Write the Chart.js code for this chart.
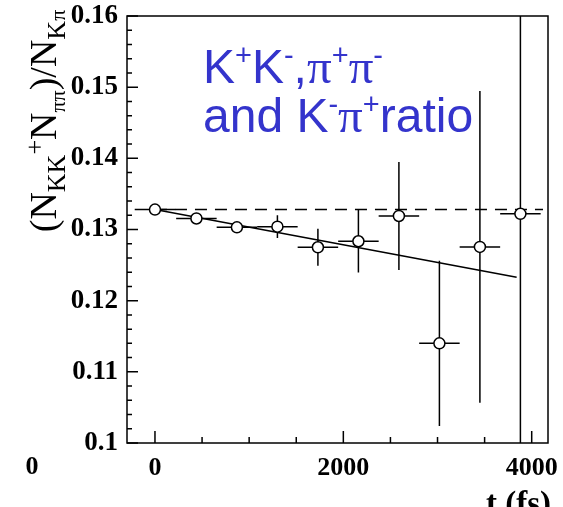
<!DOCTYPE html>
<html>
<head>
<meta charset="utf-8">
<script src="https://cdn.jsdelivr.net/npm/chart.js@4.4.0/dist/chart.umd.min.js"></script>
<style>
  body { margin: 0; background: #fff; }
  canvas { display: block; }
</style>
</head>
<body>
<canvas id="ratioChart" width="563" height="507"></canvas>
<script>
// decay time bins (fs) and the measured ratio with its errors
var times = [0, 440, 870, 1300, 1730, 2160, 2590, 3020, 3450, 3880];
var ratios = [0.1328, 0.13155, 0.1303, 0.1304, 0.1275, 0.12835, 0.1319, 0.1140, 0.12755, 0.1322];
var ratioErrors = [0.0002, 0.0003, 0.0005, 0.0016, 0.0026, 0.0044, 0.0076, 0.0116, 0.0219, 0.05];
var timeHalfWidths = [215, 215, 215, 215, 215, 215, 215, 215, 215, 215];

// straight line fit and the flat reference (dashed)
var fitTimes = [0, 3840];
var fitValues = [0.1328, 0.1233];
var flatTimes = [0, 4120];
var flatValues = [0.1328, 0.1328];

// axis ticks
var xTicks = [0, 2000, 4000];
var xMinorTicks = [500, 1000, 1500, 2500, 3000, 3500];
var yTicks = [0.1, 0.11, 0.12, 0.13, 0.14, 0.15, 0.16];
var yMinorStep = 0.002;

var serif = '"Liberation Serif", "DejaVu Serif", serif';
var sans = '"Liberation Sans", Arial, sans-serif';
var blue = '#3434cc';

function toPoints(xs, ys) {
    return xs.map(function (x, i) { return { x: x, y: ys[i] }; });
}

// draws a row of text pieces (for sub/superscripts), returns the total width
function drawRuns(ctx, x, y, runs, measureOnly) {
    var w = 0;
    runs.forEach(function (r) {
        ctx.font = r.font;
        if (!measureOnly) ctx.fillText(r.text, x + w, y + (r.dy || 0));
        w += ctx.measureText(r.text).width + (r.gap || 0);
    });
    return w;
}

// keep the plot frame where we put it, labels may overhang
function noPadding(s) {
    s.paddingTop = 0; s.paddingBottom = 0;
    s.paddingLeft = 0; s.paddingRight = 0;
}

var rootStyle = {
    id: 'rootStyle',
    beforeDatasetsDraw: function (chart) {
        var ctx = chart.ctx, area = chart.chartArea;
        var xs = chart.scales.x, ys = chart.scales.y;
        ctx.save();
        ctx.beginPath();
        ctx.rect(area.left, area.top, area.right - area.left, area.bottom - area.top);
        ctx.clip();
        ctx.strokeStyle = '#000';
        ctx.lineWidth = 1.5;
        times.forEach(function (t, i) {
            var px = xs.getPixelForValue(t), py = ys.getPixelForValue(ratios[i]);
            ctx.beginPath();
            ctx.moveTo(xs.getPixelForValue(t - timeHalfWidths[i]), py);
            ctx.lineTo(xs.getPixelForValue(t + timeHalfWidths[i]), py);
            ctx.moveTo(px, ys.getPixelForValue(ratios[i] + ratioErrors[i]));
            ctx.lineTo(px, ys.getPixelForValue(ratios[i] - ratioErrors[i]));
            ctx.stroke();
        });
        ctx.restore();
    },
    afterDraw: function (chart) {
        var ctx = chart.ctx, area = chart.chartArea;
        var xs = chart.scales.x, ys = chart.scales.y;
        ctx.save();
        ctx.strokeStyle = '#000';
        ctx.lineWidth = 1.5;
        ctx.strokeRect(area.left, area.top, area.right - area.left, area.bottom - area.top);

        // inward ticks, ROOT style
        ctx.beginPath();
        xTicks.forEach(function (v) {
            var p = xs.getPixelForValue(v);
            ctx.moveTo(p, area.bottom); ctx.lineTo(p, area.bottom - 12);
        });
        xMinorTicks.forEach(function (v) {
            var p = xs.getPixelForValue(v);
            ctx.moveTo(p, area.bottom); ctx.lineTo(p, area.bottom - 6);
        });
        for (var v = yTicks[0]; v <= yTicks[yTicks.length - 1] + 1e-9; v += yMinorStep) {
            var p = ys.getPixelForValue(v);
            var major = Math.abs(v * 100 - Math.round(v * 100)) < 1e-6;
            ctx.moveTo(area.left, p); ctx.lineTo(area.left + (major ? 11 : 5), p);
        }
        ctx.stroke();

        // annotation in blue
        ctx.fillStyle = blue;
        ctx.textBaseline = 'alphabetic';
        var big = '48px ' + sans, sup = '29px ' + sans, pi = '49px ' + serif;
        drawRuns(ctx, 203, 83, [
            { text: 'K', font: big }, { text: '+', font: sup, dy: -18 },
            { text: 'K', font: big }, { text: '-', font: sup, dy: -18 },
            { text: ',', font: big }, { text: '\u03c0', font: pi },
            { text: '+', font: sup, dy: -18 }, { text: '\u03c0', font: pi },
            { text: '-', font: sup, dy: -18 }
        ]);
        drawRuns(ctx, 203, 132, [
            { text: 'and K', font: big }, { text: '-', font: sup, dy: -18 },
            { text: '\u03c0', font: pi }, { text: '+', font: sup, dy: -18 },
            { text: 'ratio', font: big }
        ]);

        // y axis title, rotated, with subscripts
        ctx.fillStyle = '#000';
        var main = '38px ' + serif, sub = '26px ' + serif, subPi = '22px ' + serif;
        var title = [
            { text: '(N', font: main }, { text: 'KK', font: sub, dy: 9 },
            { text: '+', font: sub, dy: -13 }, { text: 'N', font: main },
            { text: '\u03c0\u03c0', font: subPi, dy: 9 }, { text: ')/N', font: main },
            { text: 'K', font: sub, dy: 9 }, { text: '\u03c0', font: subPi, dy: 9 }
        ];
        ctx.translate(56, 121);
        ctx.rotate(-Math.PI / 2);
        var tw = drawRuns(ctx, 0, 0, title, true);
        drawRuns(ctx, -tw / 2, 0, title);
        ctx.setTransform(1, 0, 0, 1, 0, 0);

        // stray label at the left and the x axis title (cut at the bottom)
        ctx.font = 'bold 26px ' + serif;
        ctx.textAlign = 'center';
        ctx.fillText('0', 32, 474);
        ctx.font = 'bold 33px ' + serif;
        ctx.textAlign = 'right';
        ctx.fillText('t (fs)', 551, 514);
        ctx.restore();
    }
};

new Chart(document.getElementById('ratioChart'), {
    type: 'scatter',
    data: {
        datasets: [{
            label: 'ratio',
            data: toPoints(times, ratios),
            pointStyle: 'circle',
            pointRadius: 5.5,
            pointBackgroundColor: '#fff',
            pointBorderColor: '#000',
            pointBorderWidth: 1.5,
            showLine: false
        }, {
            label: 'fit',
            data: toPoints(fitTimes, fitValues),
            showLine: true,
            borderColor: '#000',
            borderWidth: 1.5,
            pointRadius: 0
        }, {
            label: 'flat',
            data: toPoints(flatTimes, flatValues),
            showLine: true,
            borderColor: '#000',
            borderWidth: 1.5,
            borderDash: [12, 8],
            pointRadius: 0
        }]
    },
    options: {
        responsive: false,
        animation: false,
        devicePixelRatio: 1,
        layout: { padding: { top: 16, right: 15, left: 0, bottom: 0 } },
        plugins: { legend: { display: false }, tooltip: { enabled: false } },
        scales: {
            x: {
                type: 'linear',
                min: -297,
                max: 4173,
                grid: { display: false, drawTicks: false },
                border: { display: false },
                afterBuildTicks: function (s) { s.ticks = xTicks.map(function (v) { return { value: v }; }); },
                afterFit: function (s) { s.height = 64; noPadding(s); },
                ticks: {
                    color: '#000',
                    padding: 10,
                    maxRotation: 0,
                    font: { family: serif, size: 26, weight: 'bold' },
                    callback: function (v) { return String(v); }
                }
            },
            y: {
                type: 'linear',
                min: 0.1,
                max: 0.16,
                grid: { display: false, drawTicks: false },
                border: { display: false },
                afterBuildTicks: function (s) { s.ticks = yTicks.map(function (v) { return { value: v }; }); },
                afterFit: function (s) { s.width = 127; noPadding(s); },
                ticks: {
                    color: '#000',
                    padding: 9,
                    font: { family: serif, size: 27, weight: 'bold' },
                    callback: function (v) { return String(Math.round(v * 100) / 100); }
                }
            }
        }
    },
    plugins: [rootStyle]
});
</script>
</body>
</html>
